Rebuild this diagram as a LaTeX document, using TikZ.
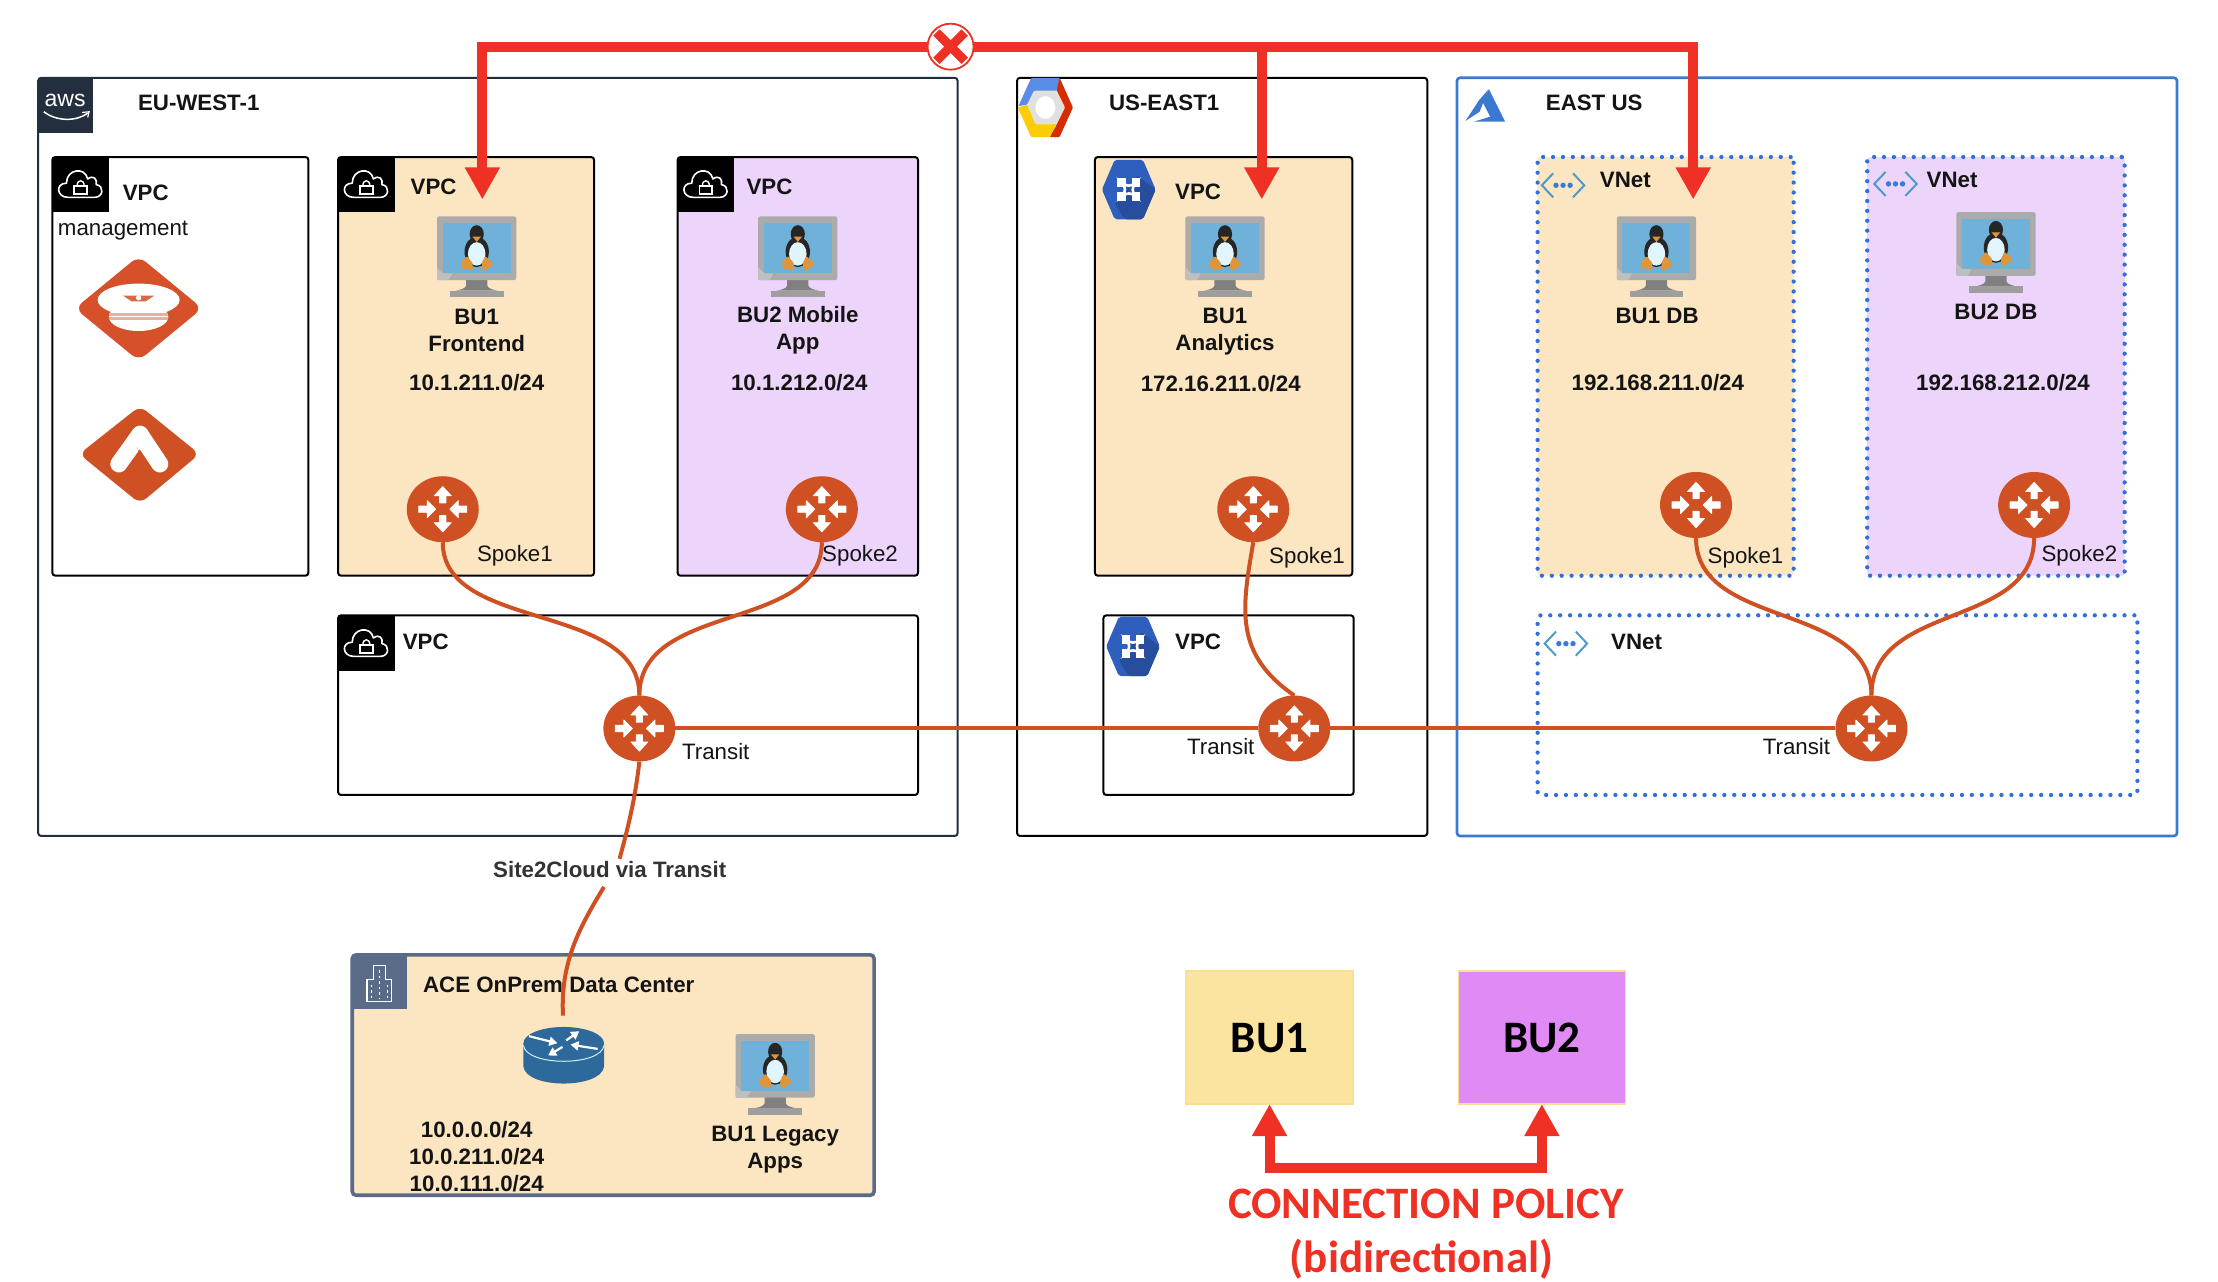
\documentclass[tikz,border=0pt]{standalone}
\usepackage{fontspec}
\setmainfont{Liberation Sans}
\newfontfamily\carl{Carlito}
\usetikzlibrary{arrows.meta,fit,shapes.geometric,calc}
\definecolor{cRed}{HTML}{EE3124}
\definecolor{cOr}{HTML}{CF5022}
\definecolor{cBeige}{HTML}{FCE6C1}
\definecolor{cLil}{HTML}{ECD4FB}
\definecolor{cBlue}{HTML}{3B78D0}
\definecolor{cDot}{HTML}{2F6FE0}
\definecolor{cNavy}{HTML}{232F3E}
\definecolor{cSlate}{HTML}{5A6B88}
\definecolor{cTeal}{HTML}{4C9BC9}
\definecolor{cGcp}{HTML}{2F5FBE}
\definecolor{cScreen}{HTML}{6FB1D8}
\definecolor{cFoot}{HTML}{DF963A}
\definecolor{cCisco}{HTML}{2D6A9B}
\tikzset{
  base/.style={inner sep=0pt,outer sep=0pt},
  frame/.style={base,rounded corners=3pt,draw=black,line width=2pt},
  vpc/.style={frame,fill=white},
  vpcA/.style={frame,fill=cBeige},
  vpcB/.style={frame,fill=cLil},
  dotted box/.style={base,rounded corners=3pt,draw=cDot,line width=4.3pt,line cap=round,dash pattern=on 0pt off 9.9pt},
  txt/.style={base,font=\fontsize{22.3}{27}\selectfont,text=black!92,align=center},
  lbl/.style={txt,font=\fontsize{22.3}{27}\selectfont\bfseries},
  rtr/.style={base,ellipse,fill=cOr,minimum width=72pt,minimum height=66pt},
  wire/.style={draw=cOr,line width=4pt},
  redarrow/.style={draw=cRed,line width=10pt,-{Triangle[length=32pt,width=33pt]}},
  policy/.style={base,font=\fontsize{45}{50}\selectfont\carl\bfseries,text=black},
  polbox/.style={base,line width=1.5pt,draw=#1},
}
\newcommand{\cloudicon}[2]{\begin{scope}[shift={(#1,#2)}]
  \fill[black] (-20,-19.5) rectangle (20,19.5);
  \draw[white,line width=1.6pt,line join=round] (-9,9) .. controls (-17,9) and (-18,-1) .. (-10,-1) .. controls (-10,-11) and (3,-13) .. (5,-4) .. controls (9,-7) and (12,-4) .. (11,0) .. controls (17,1) and (16,9) .. (10,9) -- cycle;
  \draw[white,line width=1.6pt] (-4.5,1) rectangle (4.5,6.5);
  \draw[white,line width=1.4pt] (-2.5,1) .. controls (-2.5,-4) and (2.5,-4) .. (2.5,1);
\end{scope}}
\newcommand{\vmicon}[2]{\begin{scope}[shift={(#1,#2)}]
  \fill[black!50] (-7.5,44) -- (7.5,44) -- (7.5,49) .. controls (8,51) and (12,52) .. (15,52.5) -- (-15,52.5) .. controls (-12,52) and (-8,51) .. (-7.5,49) -- cycle;
  \fill[black!38] (-19,52.5) rectangle (19,57);
  \fill[black!33,rounded corners=2pt] (-28,0) rectangle (28,45);
  \fill[black!25,rounded corners=1pt] (-28,45) -- (-28,36) -- (-23.8,40.3) -- (-17,40.3) -- (-20,45) -- cycle;
  \fill[cScreen] (-24,4.6) rectangle (24,40.3);
  \fill[black!85] (0,12.5) ellipse (5 and 6.3);
  \fill[black!85] (0,25) ellipse (8.6 and 10.8);
  \fill[white!88!cyan] (0,26.5) ellipse (6.2 and 8.3);
  \fill[cFoot] (-3,14.3) -- (3,14.3) -- (0,18) -- cycle;
  \fill[cFoot,rounded corners=1pt] (-7,28) -- (-11.5,33) -- (-10,37) -- (-2.8,38) -- (-2.8,33) -- cycle;
  \fill[cFoot,rounded corners=1pt] (6,28) -- (11.5,33) -- (10,36) -- (4,38.5) -- (3.5,33) -- cycle;
\end{scope}}
\newcommand{\rtrdeco}[2]{\begin{scope}[shift={(#1,#2)}]
  \foreach \a in {0,180}{
    \fill[white,rotate=\a,line join=round,draw=white,line width=.8pt] (0,-16) -- (6,-9.5) -- (2.2,-9.5) -- (2.2,-4.5) -- (-2.2,-4.5) -- (-2.2,-9.5) -- (-6,-9.5) -- cycle;}
  \foreach \a in {90,270}{
    \fill[white,rotate=\a,line join=round,draw=white,line width=.8pt] (0,-5) -- (6,-11) -- (2.2,-11) -- (2.2,-17) -- (-2.2,-17) -- (-2.2,-11) -- (-6,-11) -- cycle;}
\end{scope}}
\newcommand{\vneticon}[2]{\begin{scope}[shift={(#1,#2)}]
  \draw[cTeal,line width=2pt] (-7,-8.5) -- (-15,0) -- (-7,8.5);
  \draw[cTeal,line width=2pt] (7,-8.5) -- (15,0) -- (7,8.5);
  \foreach \d in {-5,0,5}{\fill[cDot!70!cTeal] (\d,0) circle (1.9);}
\end{scope}}
\newcommand{\gcphex}[2]{\begin{scope}[shift={(#1,#2)}]
  \fill[cGcp,rounded corners=2pt] (-19,0) -- (-10,-21) -- (10,-21) -- (19,0) -- (10,21) -- (-10,21) -- cycle;
  \fill[cGcp!82!black,rounded corners=2pt] (6,-10) -- (19,0) -- (10,21) -- (-3,21) -- (-10,10) -- cycle;
  \draw[white,line width=2.6pt] (-5,-5) .. controls (-2,-2) and (2,-2) .. (5,-5) .. controls (2,-2) and (2,2) .. (5,5) .. controls (2,2) and (-2,2) .. (-5,5) .. controls (-2,2) and (-2,-2) .. (-5,-5) -- cycle;
  \foreach \a/\b in {-5/-5,5/-5,5/5,-5/5}{\fill[white] (\a-3,\b-3) rectangle (\a+3,\b+3);}
\end{scope}}
\begin{document}
\begin{tikzpicture}[x=1.41454pt,y=-1.41454pt]
\useasboundingbox (0,0) rectangle (1568,906.3);
\fill[white] (0,0) rectangle (1568,906.3);
% regions
\node[frame,draw=cNavy,fit={(27,55)(677,591)}] (eu) {};
\node[frame,fit={(719,55)(1009,591)}] (us) {};
\node[frame,draw=cBlue,line width=2.6pt,fit={(1030,55)(1539,591)}] (az) {};
\node[vpc,fit={(37,111)(218,407)}] (mgmt) {};
\node[vpcA,fit={(239,111)(420,407)}] (fe) {};
\node[vpcB,fit={(479,111)(649,407)}] (mob) {};
\node[vpc,fit={(239,435)(649,562)}] (tr1) {};
\node[vpcA,fit={(774,111)(956,407)}] (ana) {};
\node[vpc,fit={(780,435)(957,562)}] (tr2) {};
\node[dotted box,fill=cBeige,fit={(1087,111)(1268,407)}] (db1) {};
\node[dotted box,fill=cLil,fit={(1320,111)(1502,407)}] (db2) {};
\node[dotted box,fit={(1087,435)(1511,562)}] (tr3) {};
\node[base,rounded corners=4pt,draw=cSlate,line width=3.6pt,fill=cBeige,fit={(249,675)(618,845)}] (dc) {};
% aws
\fill[cNavy] (27,55) rectangle (66,94);
\node[base,text=white,font=\fontsize{23}{23}\selectfont] (awst) at (46,71) {aws};
\draw[white,line width=1.5pt] (31,79) .. controls (40,86) and (54,86) .. (62,80);
\draw[white,line width=1.2pt] (58,79.5) -- (63,79) -- (62,83);
% gcp logo
\begin{scope}[shift={(739,76)}]
  \fill[black!12] (-14,0) -- (-7,-13) -- (7,-13) -- (14,0) -- (7,13) -- (-7,13) -- cycle;
  \fill[white] (0,0) ellipse (7 and 8);
  \fill[cDot!80!white,rounded corners=1pt] (-19,-1) -- (-10,-21) -- (10,-21) -- (14,-12) -- (-8,-12) -- (-13,-2) -- cycle;
  \fill[red!60!orange!85!black,rounded corners=1pt] (10,-21) -- (19.5,0) -- (10,21) -- (3,21) -- (8,12) -- (14,0) -- (8,-12) -- cycle;
  \fill[yellow!65!orange,rounded corners=1pt] (-19.5,0) -- (-13,-2) -- (-7,12) -- (8,12) -- (3,21) -- (-10,21) -- cycle;
\end{scope}
% azure
\fill[cBlue] (1036,85.5) -- (1045.5,71) -- (1052,63.5) -- (1046,79) -- cycle;
\fill[cBlue] (1052.5,63) -- (1064,86) -- (1042,86) -- (1053.5,82.5) -- (1048,72) -- cycle;
% vpc icons
\cloudicon{57}{130.5}
\cloudicon{259}{130.5}
\cloudicon{499}{130.5}
\cloudicon{259}{455}
\gcphex{798}{134}
\begin{scope}
\clip (770,435) rectangle (860,500);
\gcphex{801}{457}
\end{scope}
\vneticon{1105}{131}
\vneticon{1340}{130}
\vneticon{1107}{455}
% controller
\fill[cOr!90!red!95!white,rounded corners=9pt] (98,181) -- (143,218) -- (98,255) -- (53,218) -- cycle;
\fill[white] (98,224) ellipse (21 and 10);
\fill[white] (98,212) ellipse (29 and 11.5);
\fill[cOr!45!white] (77,221) rectangle (119,226);
\draw[white,line width=.7pt] (77,223.5) -- (119,223.5);
\fill[cOr!85!white] (87,209) -- (109,209) -- (103,213) -- (93,213) -- cycle;
\fill[white] (98,210.5) circle (1.9);
% copilot
\fill[cOr,rounded corners=8pt] (99,287) -- (141,321) -- (99,356) -- (56,321) -- cycle;
\draw[white,line width=17pt,line cap=round] (84,328) -- (99,307);
\draw[white,line width=17pt,line cap=round] (113,328) -- (99,307);
\fill[cOr] (97,316) -- (100,327) -- (87,345) -- (110,345) -- (101,327) -- cycle;
% building
\fill[cSlate] (249,675) rectangle (288,713);
\draw[white,line width=1.3pt] (259.5,708) -- (259.5,692.5) -- (264,692.5) -- (264,682.5) -- (272.5,682.5) -- (272.5,692.5) -- (277,692.5) -- (277,708) -- cycle;
\draw[white,line width=1.2pt,dash pattern=on 2.5pt off 3pt] (262.5,696) -- (262.5,706) (268.2,686) -- (268.2,706) (274,696) -- (274,706);
% vm
\vmicon{337}{153}
\vmicon{564}{153}
\vmicon{866}{153}
\vmicon{1171}{153}
\vmicon{1411}{150}
\vmicon{548}{731}
% onprem router
\fill[cCisco] (370,738) -- (370,754) .. controls (372,770) and (425,770) .. (427,754) -- (427,738) -- cycle;
\fill[cCisco] (398.5,737.5) ellipse (28.5 and 11.5);
\draw[white!80!cyan,line width=1pt] (370,739) .. controls (372,754) and (425,754) .. (427,739);
\begin{scope}[shift={(398.5,737.5)}]
  \foreach \x/\y/\X/\Y in {-24.5/-5/-4.5/0,1.8/-2/11/-8.5,-0.8/2.6/-11/8.7,24/4/4.8/1}{
    \draw[white,line width=2.2pt,-{Triangle[length=8pt,width=9pt]}] (\x,\y) -- (\X,\Y);}
\end{scope}
% routers
\node[rtr] (r1) at (313,360) {};
\node[rtr] (r2) at (581,360) {};
\node[rtr] (r3) at (886,360) {};
\node[rtr] (r4) at (1199,357) {};
\node[rtr] (r5) at (1438,357) {};
\node[rtr] (t1) at (452,515) {};
\node[rtr] (t2) at (915,515) {};
\node[rtr] (t3) at (1323,515) {};
\foreach \x/\y in {313/360,581/360,886/360,1199/357,1438/357,452/515,915/515,1323/515}{\rtrdeco{\x}{\y}}
% texts
\node[lbl] (n1) at (140.5,73) {EU-WEST-1};
\node[lbl] (n2) at (103,136) {VPC};
\node[txt] (n3) at (87,163) {management};
\node[lbl] (n4) at (306.5,132) {VPC};
\node[lbl] (n5) at (337,233.3) {BU1\\Frontend};
\node[lbl] (n6) at (337,270.5) {10.1.211.0/24};
\node[lbl] (n7) at (544,132) {VPC};
\node[lbl] (n8) at (564,233.3) {BU2 Mobile\\App};
\node[lbl] (n9) at (565,270.5) {10.1.212.0/24};
\node[txt] (n10) at (364,393) {Spoke1};
\node[txt] (n11) at (608,393) {Spoke2};
\node[lbl] (n12) at (301,454) {VPC};
\node[txt] (n13) at (506,531.5) {Transit};
\node[lbl] (n14) at (823,73) {US-EAST1};
\node[lbl] (n15) at (847,135.5) {VPC};
\node[lbl] (n16) at (866,234.5) {BU1\\Analytics};
\node[lbl] (n17) at (863,271.5) {172.16.211.0/24};
\node[txt] (n18) at (924,394) {Spoke1};
\node[lbl] (n19) at (847,454) {VPC};
\node[txt] (n20) at (863,527.5) {Transit};
\node[lbl] (n21) at (1127,73) {EAST US};
\node[lbl] (n22) at (1149,127.5) {VNet};
\node[lbl] (n23) at (1171.5,223.5) {BU1 DB};
\node[lbl] (n24) at (1172,270.5) {192.168.211.0/24};
\node[txt] (n25) at (1234,394) {Spoke1};
\node[lbl] (n26) at (1380,127.5) {VNet};
\node[lbl] (n27) at (1411,220.5) {BU2 DB};
\node[lbl] (n28) at (1416,270.5) {192.168.212.0/24};
\node[txt] (n29) at (1470,393) {Spoke2};
\node[lbl] (n30) at (1157,454) {VNet};
\node[txt] (n31) at (1270,527.5) {Transit};
\node[lbl] (n32) at (395,696.5) {ACE OnPrem Data Center};
\node[lbl] (n33) at (337,817.5) {10.0.0.0/24\\10.0.211.0/24\\10.0.111.0/24};
\node[lbl] (n34) at (548,813) {BU1 Legacy\\Apps};
% wires
\coordinate (cpe) at (398,718);
\node[lbl,fill=white,inner ysep=3pt,text=black!80] (s2c) at (431,615) {Site2Cloud via Transit};
\draw[wire] (r1.south) .. controls (313,447) and (452,425) .. (t1.north);
\draw[wire] (r2.south) .. controls (581,447) and (452,425) .. (t1.north);
\draw[wire] (r3.south) .. controls (878,430) and (872,462) .. (t2.north);
\draw[wire] (r4.south) .. controls (1199,445) and (1323,425) .. (t3.north);
\draw[wire] (r5.south) .. controls (1438,445) and (1323,425) .. (t3.north);
\draw[wire] (t1.east) -- (t2.west);
\draw[wire] (t2.east) -- (t3.west);
\draw[wire] (t1.south) .. controls (449,565) and (444,585) .. (s2c.north -| 438,0);
\draw[wire] (427,627) .. controls (410,655) and (396,680) .. (cpe);
% red policy lines
\coordinate (tipA) at (341,141);
\coordinate (tipB) at (892,141);
\coordinate (tipC) at (1197,141);
\coordinate (jct) at (892,33);
\node[base,circle,draw=cRed,line width=1.8pt,fill=white,minimum size=46pt] (blk) at (672,33) {};
\draw[cRed,line width=9pt] ($(blk)+(-10,-10)$) -- ($(blk)+(10,10)$) ($(blk)+(10,-10)$) -- ($(blk)+(-10,10)$);
\draw[redarrow] (blk.west) -| (tipA);
\draw[redarrow] (blk.east) -| (tipC);
\draw[redarrow] (jct) -- (tipB);
% policy boxes
\definecolor{cBYel}{HTML}{FBE49F}
\definecolor{cBMag}{HTML}{E08AF5}
\definecolor{cBEdge}{HTML}{F8DF93}
\node[polbox=cBEdge,fill=cBYel,minimum width=167pt,minimum height=133pt,policy] (bu1) at (897.5,733.5) {BU1};
\node[polbox=cBEdge,fill=cBMag,minimum width=167pt,minimum height=133pt,policy] (bu2) at (1090,733.5) {BU2};
\draw[redarrow,{Triangle[length=32pt,width=33pt]}-{Triangle[length=32pt,width=33pt]}] (bu1.south) -- ++(0,45) -| (bu2.south);
\node[policy,text=cRed] (p1) at (1008,851) {CONNECTION POLICY};
\node[policy,text=cRed] (p2) at (1005,890) {(bidirectional)};
\end{tikzpicture}
\end{document}
